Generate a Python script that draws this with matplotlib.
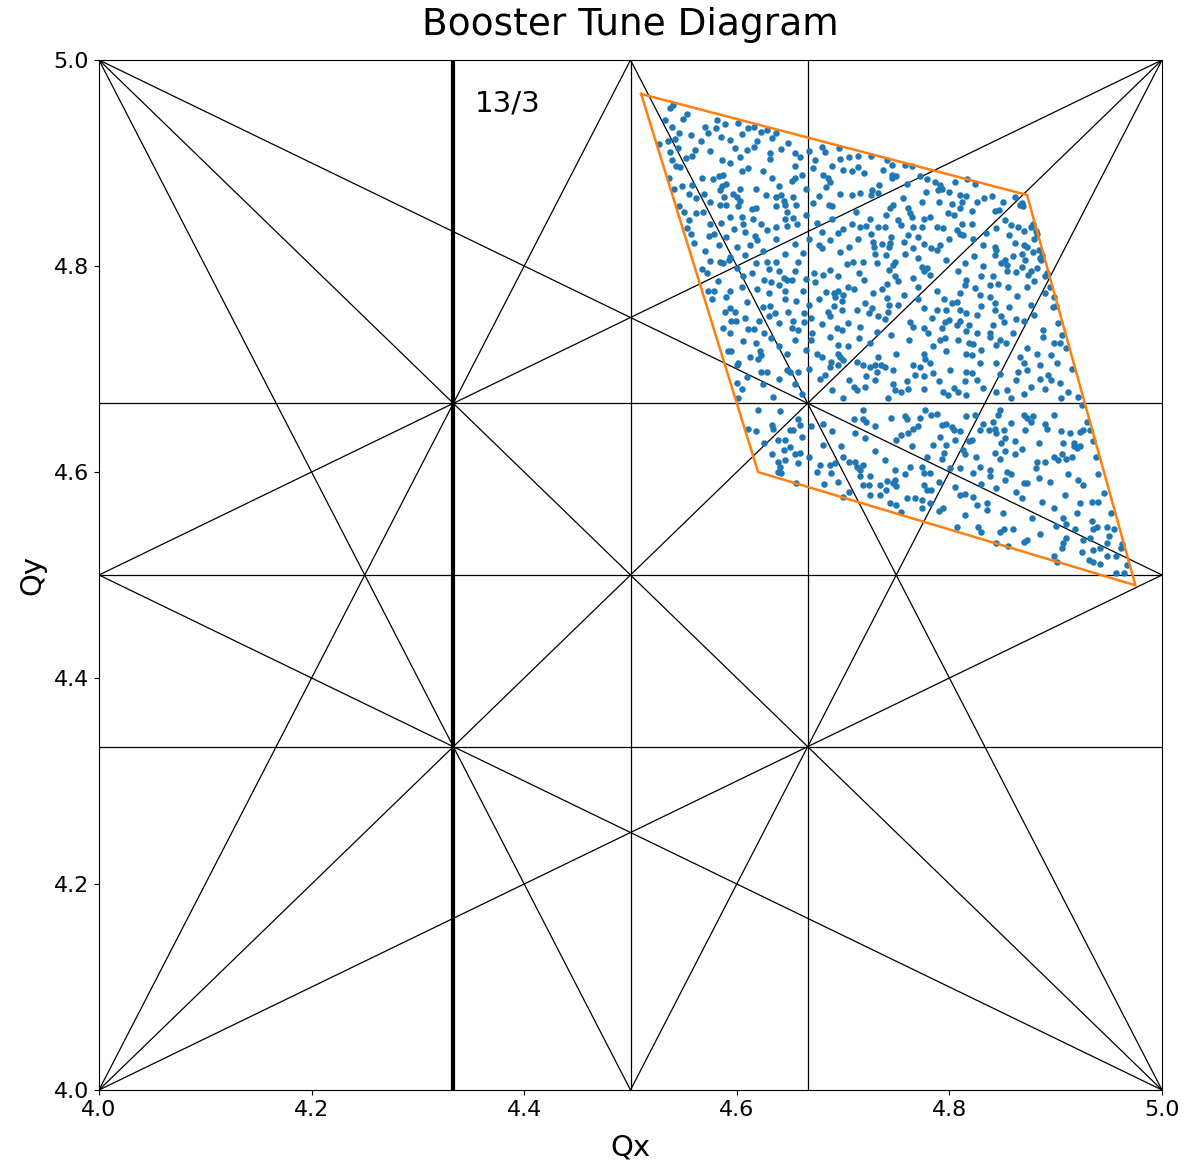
import numpy as np
import matplotlib
matplotlib.use("Agg")
import matplotlib.pyplot as plt

# Resonance lines m*Qx + n*Qy = p up to third order inside the 4..5 tune square
resonances = [
    (2, 0, 9), (0, 2, 9), (1, 1, 9), (1, -1, 0),
    (3, 0, 13), (3, 0, 14), (0, 3, 13), (0, 3, 14),
    (2, 1, 13), (2, 1, 14), (1, 2, 13), (1, 2, 14),
    (2, -1, 4), (2, -1, 5), (1, -2, -4), (1, -2, -5),
]

# Working-point region (polygon vertices, Qx and Qy)
region_qx = [4.510, 4.873, 4.975, 4.620, 4.510]
region_qy = [4.967, 4.869, 4.490, 4.600, 4.967]

# Particle tunes (Qx, Qy)
tunes = np.array([
    (4.537,4.953),(4.540,4.956),(4.549,4.943),(4.553,4.948),(4.532,4.942),(4.539,4.935),(4.546,4.929),(4.535,4.921),(4.542,4.923),(4.557,4.927),
    (4.570,4.935),(4.573,4.929),(4.581,4.942),(4.580,4.934),(4.589,4.938),(4.601,4.939),(4.594,4.922),(4.611,4.934),(4.616,4.935),(4.623,4.930),
    (4.628,4.932),(4.637,4.929),(4.633,4.924),(4.648,4.919),(4.527,4.918),(4.537,4.911),(4.561,4.913),(4.558,4.907),(4.539,4.903),(4.543,4.897),
    (4.547,4.896),(4.610,4.913),(4.616,4.916),(4.631,4.910),(4.631,4.904),(4.659,4.906),(4.680,4.916),(4.683,4.911),(4.696,4.915),(4.697,4.904),
    (4.706,4.906),(4.714,4.907),(4.726,4.907),(4.586,4.903),(4.594,4.900),(4.603,4.906),(4.611,4.895),(4.605,4.892),(4.625,4.892),(4.655,4.897),
    (4.672,4.895),(4.681,4.888),(4.686,4.885),(4.708,4.892),(4.714,4.896),(4.567,4.885),(4.578,4.884),(4.583,4.887),(4.587,4.888),(4.590,4.880),
    (4.586,4.878),(4.603,4.875),(4.633,4.885),(4.652,4.883),(4.655,4.885),(4.661,4.888),(4.684,4.877),(4.688,4.882),(4.727,4.874),(4.734,4.879),
    (4.541,4.875),(4.558,4.879),(4.555,4.870),(4.569,4.870),(4.584,4.874),(4.588,4.867),(4.600,4.867),(4.603,4.863),(4.627,4.869),(4.637,4.867),
    (4.642,4.869),(4.644,4.863),(4.653,4.867),(4.546,4.858),(4.584,4.859),(4.590,4.859),(4.601,4.858),(4.614,4.855),(4.618,4.856),(4.637,4.858),
    (4.645,4.859),(4.647,4.852),(4.656,4.859),(4.672,4.861),(4.687,4.859),(4.690,4.858),(4.708,4.869),(4.716,4.871),(4.726,4.869),(4.733,4.871),
    (4.550,4.852),(4.562,4.851),(4.594,4.848),(4.605,4.848),(4.606,4.841),(4.623,4.841),(4.637,4.838),(4.647,4.839),(4.653,4.847),(4.657,4.841),
    (4.553,4.837),(4.557,4.831),(4.575,4.841),(4.574,4.829),(4.579,4.831),(4.708,4.841),(4.716,4.838),(4.722,4.839),(4.733,4.838),(4.680,4.833),
    (4.726,4.831),(4.608,4.833),(4.617,4.829),(4.619,4.825),(4.637,4.826),(4.655,4.821),(4.600,4.818),(4.608,4.811),(4.662,4.813),(4.677,4.820),
    (4.680,4.817),(4.697,4.814),(4.706,4.818),(4.728,4.823),(4.729,4.818),(4.730,4.812),(4.737,4.821),(4.584,4.804),(4.587,4.803),(4.593,4.806),
    (4.594,4.809),(4.567,4.797),(4.572,4.793),(4.618,4.803),(4.628,4.804),(4.637,4.804),(4.640,4.795),(4.644,4.788),(4.647,4.786),(4.652,4.786),
    (4.614,4.793),(4.626,4.786),(4.632,4.784),(4.658,4.804),(4.673,4.793),(4.681,4.791),(4.688,4.796),(4.704,4.802),(4.709,4.804),(4.719,4.804),
    (4.732,4.803),(4.573,4.776),(4.579,4.776),(4.577,4.768),(4.594,4.776),(4.619,4.778),(4.630,4.774),(4.645,4.776),(4.645,4.768),(4.656,4.766),
    (4.674,4.784),(4.684,4.775),(4.691,4.774),(4.695,4.776),(4.692,4.770),(4.699,4.766),(4.700,4.772),(4.710,4.778),(4.721,4.764),(4.728,4.774),
    (4.589,4.755),(4.594,4.759),(4.631,4.761),(4.636,4.754),(4.663,4.754),(4.677,4.768),(4.686,4.755),(4.691,4.761),(4.699,4.757),(4.713,4.757),
    (4.724,4.754),(4.727,4.759),(4.733,4.751),(4.595,4.747),(4.599,4.747),(4.621,4.747),(4.630,4.751),(4.653,4.747),(4.663,4.746),(4.680,4.744),
    (4.688,4.751),(4.587,4.740),(4.594,4.735),(4.611,4.739),(4.616,4.739),(4.626,4.735),(4.652,4.740),(4.658,4.738),(4.671,4.735),(4.694,4.740),
    (4.699,4.738),(4.716,4.741),(4.732,4.736),
    (4.741,4.903),(4.746,4.898),(4.746,4.888),(4.746,4.885),(4.758,4.898),(4.765,4.897),(4.779,4.884),(4.786,4.882),(4.791,4.879),(4.793,4.875),
    (4.789,4.874),(4.805,4.882),(4.817,4.884),(4.824,4.880),(4.810,4.869),(4.816,4.868),(4.833,4.866),(4.840,4.868),(4.862,4.867),(4.866,4.859),
    (4.869,4.858),(4.868,4.861),(4.812,4.862),(4.810,4.856),(4.799,4.851),(4.804,4.850),(4.821,4.853),(4.774,4.862),(4.747,4.859),(4.744,4.856),
    (4.761,4.856),(4.763,4.851),(4.765,4.848),(4.752,4.845),(4.754,4.840),(4.766,4.838),(4.761,4.830),(4.776,4.846),(4.782,4.848),(4.774,4.838),
    (4.788,4.838),(4.794,4.837),(4.807,4.835),(4.812,4.841),(4.810,4.831),(4.813,4.830),(4.821,4.841),(4.843,4.853),(4.847,4.854),(4.844,4.837),
    (4.852,4.845),(4.865,4.838),(4.870,4.834),(4.877,4.838),(4.881,4.834),(4.879,4.841),(4.882,4.831),(4.739,4.838),(4.744,4.822),(4.743,4.818),
    (4.776,4.821),(4.783,4.817),(4.791,4.820),(4.788,4.816),(4.766,4.817),(4.832,4.820),(4.843,4.818),(4.844,4.816),(4.843,4.811),(4.852,4.806),
    (4.854,4.801),(4.849,4.803),(4.854,4.795),(4.863,4.794),(4.868,4.799),(4.871,4.806),(4.868,4.812),(4.870,4.820),(4.873,4.818),(4.879,4.814),
    (4.884,4.816),(4.887,4.811),(4.885,4.808),(4.882,4.798),(4.877,4.795),(4.874,4.791),(4.892,4.793),(4.895,4.780),(4.873,4.780),(4.749,4.804),
    (4.747,4.801),(4.743,4.796),(4.749,4.790),(4.752,4.785),(4.741,4.783),(4.774,4.799),(4.776,4.795),(4.779,4.798),(4.782,4.791),(4.766,4.788),
    (4.815,4.803),(4.816,4.786),(4.815,4.782),(4.830,4.790),(4.841,4.790),(4.838,4.782),(4.846,4.783),(4.810,4.774),(4.807,4.765),(4.802,4.764),
    (4.810,4.757),(4.829,4.772),(4.838,4.770),(4.843,4.764),(4.830,4.761),(4.776,4.759),(4.788,4.757),(4.797,4.757),(4.816,4.754),(4.818,4.743),
    (4.810,4.747),(4.807,4.743),(4.741,4.769),(4.743,4.762),(4.739,4.749),(4.763,4.746),(4.766,4.741),(4.776,4.740),(4.780,4.735),(4.793,4.740),
    (4.796,4.746),(4.843,4.757),(4.849,4.751),(4.851,4.746),(4.841,4.743),(4.838,4.735),(4.863,4.749),(4.870,4.747),(4.877,4.762),(4.890,4.774),
    (4.898,4.770),(4.900,4.761),(4.888,4.738),(4.906,4.733),(4.826,4.735),(4.816,4.737),
    (4.592,4.717),(4.595,4.717),(4.601,4.706),(4.600,4.704),(4.618,4.725),(4.622,4.717),(4.620,4.710),(4.623,4.714),(4.623,4.697),(4.628,4.697),
    (4.634,4.673),(4.647,4.715),(4.647,4.699),(4.650,4.697),(4.658,4.697),(4.661,4.676),(4.675,4.715),(4.680,4.712),(4.689,4.707),(4.695,4.715),
    (4.697,4.712),(4.695,4.704),(4.688,4.702),(4.683,4.694),(4.700,4.709),(4.706,4.689),(4.713,4.707),(4.719,4.704),(4.725,4.702),(4.730,4.704),
    (4.733,4.712),(4.736,4.704),(4.732,4.697),(4.730,4.689),(4.722,4.693),(4.721,4.683),(4.713,4.680),(4.710,4.683),(4.700,4.672),(4.600,4.686),
    (4.605,4.681),(4.601,4.672),(4.695,4.723),(4.715,4.730),(4.620,4.660),(4.641,4.659),(4.633,4.646),(4.634,4.642),(4.611,4.642),(4.653,4.641),
    (4.650,4.641),(4.659,4.646),(4.658,4.651),(4.661,4.634),(4.639,4.631),(4.645,4.631),(4.644,4.621),(4.633,4.617),(4.639,4.610),(4.641,4.605),
    (4.642,4.599),(4.639,4.600),(4.655,4.617),(4.659,4.618),(4.658,4.609),(4.656,4.589),(4.681,4.647),(4.681,4.626),(4.678,4.607),(4.688,4.607),
    (4.689,4.599),(4.692,4.609),(4.706,4.581),(4.700,4.576),(4.706,4.610),(4.711,4.610),(4.713,4.605),(4.719,4.607),(4.716,4.602),(4.716,4.596),
    (4.719,4.587),(4.724,4.587),(4.725,4.596),(4.735,4.587),(4.741,4.591),(4.735,4.578),(4.740,4.583),(4.719,4.651),(4.722,4.649),(4.719,4.660),
    (4.710,4.651),(4.711,4.638),(4.721,4.633),(4.688,4.731),
    (4.791,4.728),(4.796,4.730),(4.818,4.725),(4.822,4.724),(4.838,4.731),(4.844,4.723),(4.848,4.728),(4.853,4.725),(4.873,4.720),(4.882,4.715),
    (4.888,4.731),(4.898,4.725),(4.904,4.725),(4.896,4.714),(4.750,4.715),(4.776,4.715),(4.777,4.710),(4.797,4.717),(4.816,4.715),(4.821,4.714),
    (4.829,4.706),(4.844,4.706),(4.766,4.704),(4.772,4.702),(4.782,4.706),(4.785,4.696),(4.768,4.694),(4.776,4.693),(4.801,4.699),(4.816,4.697),
    (4.821,4.696),(4.826,4.689),(4.815,4.688),(4.739,4.702),(4.747,4.699),(4.865,4.697),(4.863,4.689),(4.873,4.699),(4.870,4.706),(4.885,4.704),
    (4.893,4.694),(4.901,4.706),(4.896,4.689),(4.904,4.686),(4.877,4.683),(4.870,4.676),(4.890,4.681),(4.912,4.678),(4.921,4.673),(4.747,4.685),
    (4.749,4.680),(4.754,4.678),(4.761,4.681),(4.776,4.681),(4.794,4.678),(4.799,4.675),(4.808,4.678),(4.816,4.675),(4.844,4.678),(4.854,4.680),
    (4.758,4.654),(4.760,4.651),(4.772,4.652),(4.783,4.655),(4.777,4.660),(4.793,4.646),(4.797,4.647),(4.802,4.644),(4.804,4.641),(4.805,4.631),
    (4.791,4.634),(4.797,4.626),(4.785,4.626),(4.766,4.642),(4.761,4.638),(4.754,4.636),(4.750,4.631),(4.816,4.654),(4.824,4.655),(4.829,4.641),
    (4.832,4.647),(4.837,4.641),(4.841,4.649),(4.843,4.642),(4.844,4.638),(4.848,4.660),(4.846,4.655),(4.851,4.641),(4.852,4.633),(4.849,4.628),
    (4.852,4.620),(4.843,4.618),(4.848,4.613),(4.838,4.596),(4.838,4.602),(4.854,4.600),(4.852,4.592),(4.844,4.584),(4.829,4.605),(4.821,4.631),
    (4.818,4.630),(4.813,4.621),(4.815,4.617),(4.810,4.604),(4.822,4.599),(4.870,4.655),(4.873,4.652),(4.879,4.654),(4.877,4.649),(4.871,4.641),
    (4.884,4.628),(4.892,4.642),(4.890,4.647),(4.882,4.610),(4.881,4.604),(4.884,4.594),(4.873,4.589),(4.870,4.589),(4.862,4.617),(4.863,4.581),
    (4.868,4.575),(4.887,4.571),(4.898,4.565),(4.909,4.578),(4.923,4.570),(4.934,4.571),(4.940,4.571),(4.907,4.555),(4.910,4.550),(4.898,4.615),
    (4.902,4.612),(4.906,4.617),(4.910,4.613),(4.915,4.615),(4.917,4.625),(4.920,4.623),(4.923,4.625),(4.913,4.638),(4.917,4.628),(4.907,4.628),
    (4.923,4.639),(4.926,4.641),(4.932,4.641),(4.929,4.649),(4.921,4.592),(4.926,4.587),(4.934,4.552),(4.935,4.545),(4.939,4.547),(4.948,4.547),
    (4.932,4.536),(4.935,4.524),(4.942,4.526),(4.948,4.531),(4.926,4.534),(4.906,4.526),(4.907,4.531),(4.910,4.536),(4.898,4.518),(4.901,4.513),
    (4.942,4.511),(4.931,4.515),(4.935,4.513),(4.957,4.518),(4.961,4.526),(4.957,4.502),(4.964,4.502),(4.967,4.510),(4.739,4.612),(4.749,4.602),
    (4.747,4.589),(4.750,4.586),(4.749,4.592),(4.744,4.570),(4.750,4.568),(4.754,4.561),(4.768,4.575),(4.774,4.573),(4.774,4.565),(4.779,4.583),
    (4.782,4.570),(4.776,4.587),(4.783,4.583),(4.763,4.605),(4.774,4.605),(4.776,4.599),(4.782,4.599),(4.779,4.615),(4.793,4.613),(4.801,4.604),
    (4.810,4.578),(4.815,4.579),(4.822,4.576),(4.826,4.568),(4.835,4.570),(4.835,4.563),(4.827,4.547),(4.830,4.542),(4.807,4.547),(4.848,4.542),
    (4.851,4.545),(4.844,4.531),(4.855,4.528),(4.794,4.565),(4.870,4.532),(4.873,4.534),
    (4.545,4.915),(4.552,4.905),(4.566,4.921),(4.575,4.912),(4.585,4.925),(4.598,4.915),(4.605,4.928),(4.619,4.921),(4.642,4.914),(4.655,4.910),
    (4.668,4.912),(4.674,4.903),(4.690,4.897),(4.700,4.893),(4.720,4.890),(4.738,4.893),(4.750,4.887),(4.760,4.880),(4.772,4.887),(4.800,4.872),
    (4.536,4.885),(4.548,4.878),(4.562,4.866),(4.575,4.862),(4.596,4.870),(4.618,4.875),(4.640,4.878),(4.665,4.875),(4.677,4.868),(4.697,4.870),
    (4.555,4.845),(4.568,4.852),(4.585,4.842),(4.597,4.836),(4.615,4.846),(4.628,4.835),(4.645,4.846),(4.665,4.850),(4.675,4.842),(4.690,4.846),
    (4.700,4.836),(4.712,4.852),(4.725,4.846),(4.740,4.850),(4.756,4.866),(4.778,4.872),(4.790,4.862),(4.802,4.860),(4.826,4.862),(4.850,4.862),
    (4.560,4.822),(4.570,4.815),(4.583,4.820),(4.590,4.828),(4.612,4.820),(4.625,4.815),(4.645,4.812),(4.668,4.826),(4.688,4.825),(4.695,4.832),
    (4.714,4.826),(4.745,4.828),(4.757,4.823),(4.770,4.828),(4.800,4.826),(4.822,4.826),(4.834,4.832),(4.856,4.830),(4.862,4.822),(4.858,4.840),
    (4.575,4.805),(4.600,4.798),(4.606,4.790),(4.630,4.797),(4.655,4.795),(4.665,4.787),(4.695,4.790),(4.715,4.793),(4.740,4.811),(4.758,4.812),
    (4.770,4.808),(4.797,4.806),(4.808,4.795),(4.823,4.810),(4.832,4.800),(4.860,4.810),(4.880,4.826),(4.886,4.806),(4.582,4.785),(4.590,4.770),
    (4.605,4.780),(4.610,4.765),(4.625,4.760),(4.640,4.782),(4.662,4.776),(4.668,4.762),(4.705,4.780),(4.720,4.786),(4.737,4.778),(4.757,4.772),
    (4.770,4.780),(4.788,4.776),(4.795,4.768),(4.824,4.779),(4.855,4.780),(4.864,4.771),(4.880,4.785),(4.890,4.790),(4.598,4.755),(4.608,4.750),
    (4.640,4.745),(4.648,4.755),(4.670,4.750),(4.705,4.745),(4.742,4.755),(4.752,4.762),(4.770,4.768),(4.784,4.750),(4.800,4.748),(4.826,4.752),
    (4.856,4.760),(4.880,4.752),(4.897,4.760),(4.902,4.745),(4.606,4.727),(4.612,4.712),(4.632,4.730),(4.640,4.722),(4.655,4.728),(4.665,4.718),
    (4.670,4.728),(4.705,4.722),(4.725,4.725),(4.745,4.733),(4.762,4.728),(4.785,4.722),(4.808,4.728),(4.830,4.718),(4.860,4.735),(4.866,4.712),
    (4.910,4.720),(4.915,4.700),(4.610,4.692),(4.625,4.685),(4.640,4.690),(4.655,4.685),(4.668,4.700),(4.678,4.690),(4.690,4.680),(4.742,4.672),
    (4.760,4.688),(4.790,4.688),(4.804,4.682),(4.832,4.682),(4.848,4.695),(4.858,4.672),(4.885,4.690),(4.905,4.672),(4.925,4.665),(4.618,4.640),
    (4.626,4.628),(4.650,4.624),(4.670,4.645),(4.690,4.640),(4.698,4.625),(4.730,4.645),(4.745,4.652),(4.770,4.645),(4.788,4.656),(4.810,4.640),
    (4.858,4.648),(4.862,4.630),(4.898,4.655),(4.905,4.640),(4.935,4.630),(4.645,4.612),(4.668,4.615),(4.675,4.600),(4.700,4.615),(4.730,4.620),
    (4.765,4.625),(4.795,4.618),(4.825,4.615),(4.868,4.622),(4.890,4.610),(4.938,4.615),(4.682,4.588),(4.695,4.590),(4.725,4.578),(4.758,4.598),
    (4.790,4.590),(4.805,4.585),(4.830,4.588),(4.858,4.598),(4.895,4.590),(4.912,4.598),(4.940,4.598),(4.760,4.575),(4.790,4.562),(4.815,4.558),
    (4.850,4.560),(4.878,4.555),(4.900,4.548),(4.920,4.560),(4.945,4.580),(4.952,4.560),(4.860,4.545),(4.885,4.540),(4.918,4.545),(4.950,4.538),
    (4.925,4.522),(4.955,4.545),(4.962,4.530),(4.948,4.518),
])

ticks = [4.0, 4.2, 4.4, 4.6, 4.8, 5.0]
highlight_q = 13 / 3
highlight_label = "13/3"

fig = plt.figure(figsize=(11.97, 11.62), dpi=100)
ax = fig.add_axes([99 / 1197, 1 - 1090 / 1162, 1063 / 1197, 1030 / 1162])
ax.set_xlim(4.0, 5.0)
ax.set_ylim(4.0, 5.0)

for m, n, p in resonances:
    if n == 0:
        ax.axvline(p / m, color="black", lw=0.9, zorder=1)
    else:
        ax.axline((4.0, (p - 4.0 * m) / n), slope=-m / n, color="black", lw=0.9, zorder=1)

ax.axvline(highlight_q, color="black", lw=3, zorder=2)
ax.text(highlight_q + 0.02, 4.95, highlight_label, fontsize=21)

ax.scatter(tunes[:, 0], tunes[:, 1], s=22, color="#1f77b4", linewidths=0, zorder=3)
ax.plot(region_qx, region_qy, color="#ff7f0e", lw=1.8, zorder=4)

ax.set_xticks(ticks)
ax.set_yticks(ticks)
ax.set_xticklabels([f"{t:.1f}" for t in ticks])
ax.set_yticklabels([f"{t:.1f}" for t in ticks])
ax.tick_params(labelsize=16)
ax.set_xlabel("Qx", fontsize=21, labelpad=10)
ax.set_ylabel("Qy", fontsize=21, labelpad=5)
ax.set_title("Booster Tune Diagram", fontsize=27, pad=18)

fig.savefig("out.png", dpi=100)
